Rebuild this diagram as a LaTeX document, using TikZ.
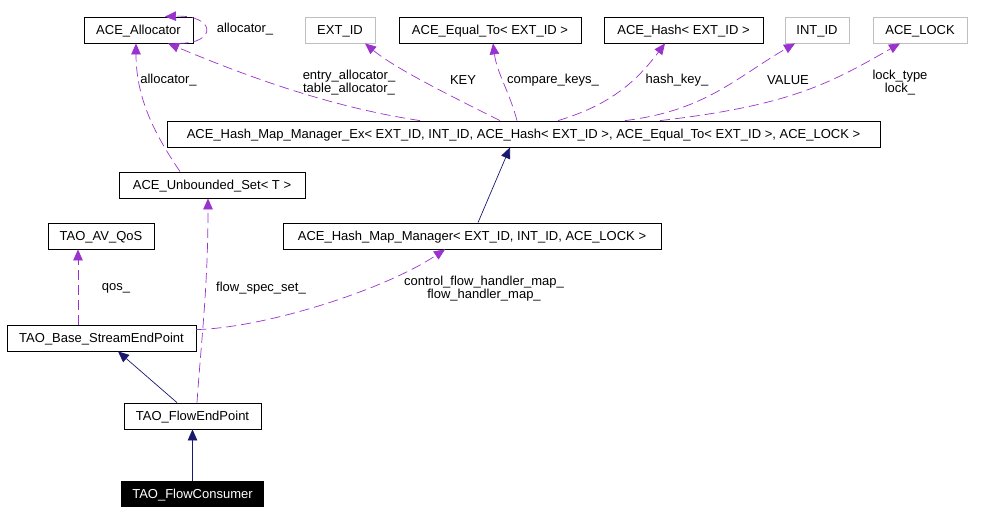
\documentclass[tikz,border=0pt]{standalone}
\usepackage{fontspec}
\setmainfont{Liberation Sans}
\usetikzlibrary{arrows.meta}
\definecolor{usecol}{HTML}{9A32CD}
\definecolor{inhcol}{HTML}{191970}
\definecolor{extcol}{HTML}{BFBFBF}
\begin{document}
\begin{tikzpicture}[x=1pt,y=-1pt,>={Triangle[length=11pt,width=9.5pt]},font=\fontsize{13}{13}\selectfont,
	cls/.style={draw,fill=white,minimum height=26pt,inner sep=0pt,text height=9.4pt,text depth=0pt,line width=0.8pt},
	extcls/.style={cls,draw=extcol},
	curcls/.style={cls,fill=black,text=white,minimum height=25pt},
	inh/.style={->,draw=inhcol,line width=0.7pt},
	use/.style={->,draw=usecol,dash pattern=on 10pt off 5pt,line width=0.7pt},
	lbl/.style={align=center,inner sep=0pt}]
	\useasboundingbox (0,0) rectangle (984,513);
	\node[cls,minimum width=109pt] (alloc) at (138.5,30) {ACE\_Allocator};
	\node[extcls,minimum width=70pt] (extid) at (340,30) {EXT\_ID};
	\node[cls,minimum width=182pt] (equal) at (490,30) {ACE\_Equal\_To< EXT\_ID >};
	\node[cls,minimum width=159pt] (hash) at (683.5,30) {ACE\_Hash< EXT\_ID >};
	\node[extcls,minimum width=64pt] (intid) at (817,30) {INT\_ID};
	\node[extcls,minimum width=94pt] (lock) at (920,30) {ACE\_LOCK};
	\node[cls,minimum width=713pt] (mgrex) at (523.5,134) {ACE\_Hash\_Map\_Manager\_Ex< EXT\_ID, INT\_ID, ACE\_Hash< EXT\_ID >, ACE\_Equal\_To< EXT\_ID >, ACE\_LOCK >};
	\node[cls,minimum width=186pt] (uset) at (212,185) {ACE\_Unbounded\_Set< T >};
	\node[cls,minimum width=106pt] (qos) at (101,236) {TAO\_AV\_QoS};
	\node[cls,minimum width=378pt] (mgr) at (472,236) {ACE\_Hash\_Map\_Manager< EXT\_ID, INT\_ID, ACE\_LOCK >};
	\node[cls,minimum width=189pt] (base) at (101.5,338) {TAO\_Base\_StreamEndPoint};
	\node[cls,minimum width=137pt] (flowep) at (192.5,416) {TAO\_FlowEndPoint};
	\node[curcls,minimum width=142pt] (flowc) at (192.5,494) {TAO\_FlowConsumer};

	\draw[inh] (flowc.north) -- (flowep.south);
	\draw[inh] ([xshift=-15.5pt]flowep.north) -- ([xshift=16.5pt]base.south);
	\draw[inh] ([xshift=6pt]mgr.north) -- ([xshift=-13.5pt]mgrex.south);

	\draw[use] ([xshift=4.5pt]flowep.north) .. controls +(4,-60) and +(0,90) .. ([xshift=-4pt]uset.south);
	\draw[use] ([xshift=-23.5pt]base.north) -- ([xshift=-23pt]qos.south);
	\draw[use] ([yshift=-5pt]base.north east) .. controls +(70,-2) and +(-60,40) .. ([xshift=-27pt]mgr.south);
	\draw[use] ([xshift=-32pt]uset.north) .. controls +(-20,-30) and +(0,60) .. ([xshift=-2.5pt]alloc.south);
	\draw[use] ([xshift=40pt]alloc.south) .. controls +(40,0) and +(50,-2) .. ([xshift=26.5pt]alloc.north);
	\draw[use] ([xshift=-103.5pt]mgrex.north) .. controls +(-100,-15) and +(60,25) .. ([xshift=29.5pt]alloc.south);
	\draw[use] ([xshift=-23.5pt]mgrex.north) .. controls +(-50,-25) and +(30,25) .. ([xshift=25pt]extid.south);
	\draw[use] ([xshift=-6.5pt]mgrex.north) .. controls +(-8,-30) and +(4,30) .. ([xshift=3pt]equal.south);
	\draw[use] ([xshift=34.5pt]mgrex.north) .. controls +(50,-15) and +(-30,40) .. ([xshift=-18.5pt]hash.south);
	\draw[use] ([xshift=101.5pt]mgrex.north) .. controls +(80,-10) and +(-60,35) .. ([xshift=-22pt]intid.south);
	\draw[use] ([xshift=136.5pt]mgrex.north) .. controls +(130,-15) and +(-70,40) .. ([xshift=-20pt]lock.south);

	\node[lbl] (l-self) at (245,29) {allocator\_};
	\node[lbl] (l-alloc) at (168.5,80) {allocator\_};
	\node[lbl] (l-entry) at (349,83) {entry\_allocator\_\\table\_allocator\_};
	\node[lbl] (l-key) at (463,80) {KEY};
	\node[lbl] (l-cmp) at (553,80) {compare\_keys\_};
	\node[lbl] (l-hash) at (677,80) {hash\_key\_};
	\node[lbl] (l-val) at (788,80) {VALUE};
	\node[lbl] (l-lock) at (900,83) {lock\_type\\lock\_};
	\node[lbl] (l-qos) at (116,288) {qos\_};
	\node[lbl] (l-spec) at (261,288) {flow\_spec\_set\_};
	\node[lbl] (l-map) at (484,289) {control\_flow\_handler\_map\_\\flow\_handler\_map\_};
\end{tikzpicture}
\end{document}
